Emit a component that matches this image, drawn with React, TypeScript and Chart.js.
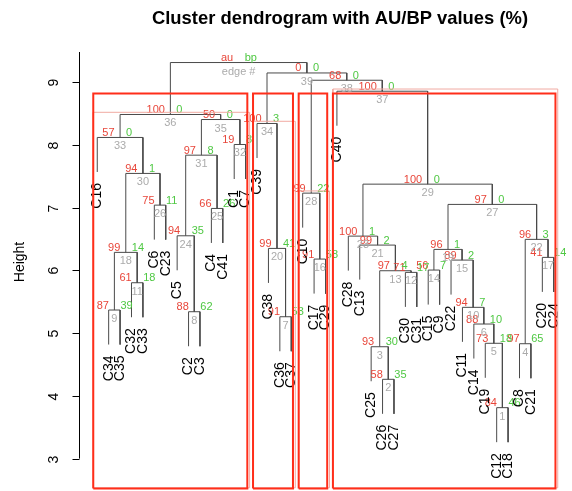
import { useEffect, useRef } from "react";
import { Chart, registerables } from "chart.js";

Chart.register(...registerables);

// ---------------- data ----------------
const leafLabels = [
  "C16", "C34", "C35", "C32", "C33", "C6", "C23", "C5", "C2", "C3", "C4", "C41", "C1", "C7",
  "C39", "C38", "C36", "C37", "C10", "C17", "C29", "C40", "C28", "C13", "C25", "C26", "C27",
  "C30", "C31", "C15", "C9", "C22", "C11", "C14", "C19", "C12", "C18", "C8", "C21", "C20", "C24",
];

// merge i (edge # i+1): children are leaf names (string) or earlier edge numbers
const mergeLeft: (string | number)[] = [
  "C12", "C26", "C25", "C8", "C19", "C14", "C36", "C2", "C34", "C11",
  "C32", "C30", 3, "C15", "C22", "C17", "C20", 9, 14, "C38",
  "C13", 4, "C28", "C5", "C4", "C6", 19, "C10", 23, 18,
  24, "C1", "C16", "C39", 31, 33, "C40", 28, 34, 36,
];
const mergeRight: (string | number)[] = [
  "C18", "C27", 2, "C21", 1, 5, "C37", "C3", "C35", 6,
  "C33", "C31", 12, "C9", 10, "C29", "C24", 11, 15, 7,
  13, 17, 21, 8, "C41", "C23", 22, 16, 27, 26,
  25, "C7", 30, 20, 32, 35, 29, 37, 38, 39,
];
const mergeHeight = [
  3.812, 4.264, 4.783, 4.831, 4.838, 5.145, 5.261, 5.341, 5.368, 5.411,
  5.803, 5.968, 5.994, 6.005, 6.164, 6.18, 6.207, 6.287, 6.334, 6.35,
  6.403, 6.494, 6.546, 6.551, 6.987, 7.04, 7.051, 7.231, 7.374, 7.545,
  7.836, 8.006, 8.118, 8.341, 8.404, 8.484, 8.855, 9.03, 9.146, 9.312,
];
const auValues = [
  84, 58, 93, 97, 73, 88, 91, 88, 87, 94,
  61, 71, 97, 56, 89, 91, 41, 99, 96, 99,
  99, 96, 100, 94, 66, 75, 97, 99, 100, 94,
  97, 19, 57, 100, 50, 100, 100, 68, 0,
];
const bpValues = [
  46, 35, 30, 65, 18, 10, 53, 62, 39, 7,
  18, 17, 4, 7, 2, 58, 14, 14, 1, 41,
  2, 3, 1, 35, 26, 11, 0, 22, 0, 1,
  8, 8, 0, 3, 0, 0, 0, 0, 0,
];
const yTicks = [3, 4, 5, 6, 7, 8, 9];
const highlightedEdges = [36, 34, 28, 37];

const titleText = "Cluster dendrogram with AU/BP values (%)";
const yAxisTitle = "Height";

// ---------------- style ----------------
const FONT = '"Liberation Sans", Arial, Helvetica, sans-serif';
const X_MIN = -0.6;
const X_MAX = 42.6;
const Y_MIN = 2.5;
const Y_MAX = 9.48;
const LINE_COLOR = "#4a4a4a";
const AU_COLOR = "#e8463a";
const BP_COLOR = "#4fc843";
const EDGE_COLOR = "#ababab";
const RED_RECT = "#ff2e1a";
const PINK_RECT = "#f1aaa2";
const RED_TOP = 8.82;

type Pt = { x: number; y: number };

function buildTree() {
  const n = mergeHeight.length;
  const nodeX: number[] = new Array(n);
  const hang = 0.1 * (Math.max(...mergeHeight) - Math.min(...mergeHeight));
  const leafEnd: number[] = new Array(leafLabels.length).fill(0);
  const segments: Pt[][] = [];
  const members: number[][] = new Array(n);
  for (let i = 0; i < n; i++) {
    const h = mergeHeight[i];
    const child = (c: string | number) => {
      if (typeof c === "string") {
        const idx = leafLabels.indexOf(c) + 1;
        leafEnd[idx - 1] = h - hang;
        return { x: idx, y: h - hang, mem: [idx] };
      }
      return { x: nodeX[c - 1], y: mergeHeight[c - 1], mem: members[c - 1] };
    };
    const l = child(mergeLeft[i]);
    const r = child(mergeRight[i]);
    nodeX[i] = (l.x + r.x) / 2;
    members[i] = [...l.mem, ...r.mem];
    segments.push([
      { x: l.x, y: l.y },
      { x: l.x, y: h },
      { x: r.x, y: h },
      { x: r.x, y: r.y },
    ]);
  }
  return { nodeX, leafEnd, segments, members };
}

export default function App() {
  const ref = useRef<HTMLCanvasElement>(null);

  useEffect(() => {
    const canvas = ref.current;
    if (!canvas) return;
    const tree = buildTree();

    const my = (Y_MAX - Y_MIN) / 200;
    const mx = (X_MAX - X_MIN) / leafLabels.length / 3;

    const rectData = (l: number, b: number, r: number, t: number): Pt[] => [
      { x: l, y: b },
      { x: r, y: b },
      { x: r, y: t },
      { x: l, y: t },
      { x: l, y: b },
    ];

    const redSets = highlightedEdges.map((e) => {
      const mem = tree.members[e - 1];
      const first = Math.min(...mem);
      const last = Math.max(...mem);
      return {
        data: rectData(first - 0.35, Y_MIN + my * 0.7, last + 0.15, RED_TOP),
        borderColor: RED_RECT,
        borderWidth: 2,
        showLine: true,
        pointRadius: 0,
        fill: false,
      };
    });
    const pinkSets = highlightedEdges.map((e) => {
      const mem = tree.members[e - 1];
      const first = Math.min(...mem);
      const last = Math.max(...mem);
      return {
        data: rectData(first - mx, Y_MIN + my, last + mx, mergeHeight[e - 1] + my),
        borderColor: PINK_RECT,
        borderWidth: 1,
        showLine: true,
        pointRadius: 0,
        fill: false,
      };
    });
    const treeSets = tree.segments.map((seg) => ({
      data: seg,
      borderColor: LINE_COLOR,
      borderWidth: 1,
      showLine: true,
      pointRadius: 0,
      fill: false,
    }));
    const datasets = [...redSets, ...pinkSets, ...treeSets];
    const firstTreeIndex = redSets.length + pinkSets.length;

    const textPlugin = {
      id: "dendroText",
      afterDatasetDraw(chart: any, args: any) {
        if (args.index !== firstTreeIndex) return;
        const ctx = chart.ctx as CanvasRenderingContext2D;
        const sx = chart.scales.x;
        const sy = chart.scales.y;
        const n = mergeHeight.length;
        ctx.save();
        ctx.font = `11px ${FONT}`;
        ctx.textBaseline = "alphabetic";
        // au
        ctx.fillStyle = AU_COLOR;
        ctx.textAlign = "right";
        for (let i = 0; i < n; i++) {
          const cx = sx.getPixelForValue(tree.nodeX[i]);
          const cy = sy.getPixelForValue(mergeHeight[i]);
          ctx.fillText(i === n - 1 ? "au" : String(auValues[i]), cx - 5.5, cy - 1.5);
        }
        // bp
        ctx.fillStyle = BP_COLOR;
        ctx.textAlign = "left";
        for (let i = 0; i < n; i++) {
          const cx = sx.getPixelForValue(tree.nodeX[i]);
          const cy = sy.getPixelForValue(mergeHeight[i]);
          ctx.fillText(i === n - 1 ? "bp" : String(bpValues[i]), cx + 6, cy - 1.5);
        }
        // edge numbers
        ctx.fillStyle = EDGE_COLOR;
        ctx.textAlign = "center";
        for (let i = 0; i < n; i++) {
          const cx = sx.getPixelForValue(tree.nodeX[i]);
          const cy = sy.getPixelForValue(mergeHeight[i]);
          ctx.fillText(i === n - 1 ? "edge #" : String(i + 1), cx, cy + 12);
        }
        // leaf labels
        ctx.fillStyle = "#000";
        ctx.font = `14px ${FONT}`;
        ctx.textAlign = "right";
        ctx.textBaseline = "middle";
        leafLabels.forEach((lab, k) => {
          const x = sx.getPixelForValue(k + 1);
          const y = sy.getPixelForValue(tree.leafEnd[k]) + 11;
          ctx.save();
          ctx.translate(x, y);
          ctx.rotate(-Math.PI / 2);
          ctx.fillText(lab, 0, 0);
          ctx.restore();
        });
        ctx.restore();
      },
      afterDraw(chart: any) {
        const ctx = chart.ctx as CanvasRenderingContext2D;
        const sy = chart.scales.y;
        const area = chart.chartArea;
        const ax = Math.round(area.left) + 0.5;
        ctx.save();
        ctx.strokeStyle = "#000";
        ctx.lineWidth = 1;
        ctx.beginPath();
        ctx.moveTo(ax, area.top);
        ctx.lineTo(ax, sy.getPixelForValue(yTicks[0]));
        ctx.stroke();
        ctx.fillStyle = "#000";
        ctx.font = `14px ${FONT}`;
        ctx.textAlign = "center";
        ctx.textBaseline = "middle";
        yTicks.forEach((t) => {
          const y = Math.round(sy.getPixelForValue(t)) + 0.5;
          ctx.beginPath();
          ctx.moveTo(ax - 7, y);
          ctx.lineTo(ax, y);
          ctx.stroke();
          ctx.save();
          ctx.translate(54, y);
          ctx.rotate(-Math.PI / 2);
          ctx.fillText(String(t), 0, 0);
          ctx.restore();
        });
        // y axis title
        ctx.save();
        ctx.translate(20, 262);
        ctx.rotate(-Math.PI / 2);
        ctx.fillText(yAxisTitle, 0, 0);
        ctx.restore();
        // main title
        ctx.font = `bold 18.4px ${FONT}`;
        ctx.textBaseline = "alphabetic";
        ctx.fillText(titleText, 340, 24);
        ctx.restore();
      },
    };

    const chart = new Chart(canvas, {
      type: "scatter",
      data: { datasets: datasets as any },
      options: {
        responsive: false,
        animation: false,
        devicePixelRatio: 1,
        layout: { padding: { left: 79, right: 0, top: 52, bottom: 1 } },
        elements: { line: { tension: 0 } },
        plugins: { legend: { display: false }, tooltip: { enabled: false } },
        scales: {
          x: { type: "linear", min: X_MIN, max: X_MAX, display: false },
          y: { type: "linear", min: Y_MIN, max: Y_MAX, display: false },
        },
      },
      plugins: [textPlugin],
    });
    return () => chart.destroy();
  }, []);

  return (
    <div style={{ position: "absolute", left: 0, top: 0, width: 572, height: 491, background: "#fff" }}>
      <canvas ref={ref} width={572} height={491} style={{ display: "block", width: 572, height: 491 }} />
    </div>
  );
}
